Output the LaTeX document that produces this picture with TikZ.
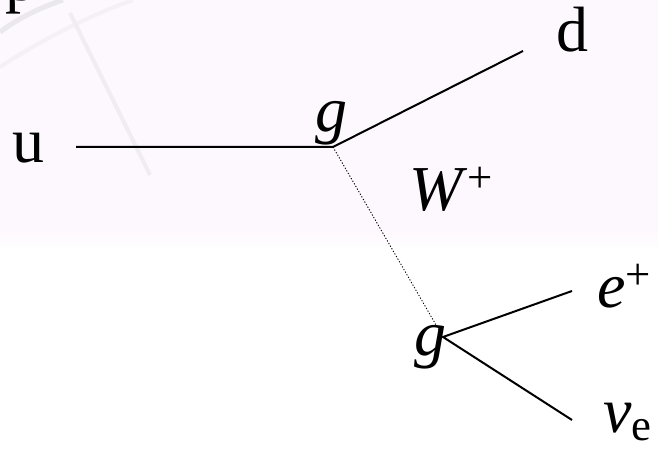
\documentclass[tikz,border=0pt]{standalone}
\usepackage{fontspec}
\setmainfont{Liberation Serif}
\usepackage{tikz}
\usetikzlibrary{positioning}
\definecolor{slidebg}{RGB}{253,248,253}
\definecolor{slidearc}{RGB}{234,232,237}

\begin{document}
\begin{tikzpicture}[x=0.5pt,y=0.5pt,
  lbl/.style={inner sep=0pt,anchor=base,font=\fontsize{32}{36}\selectfont},
  fermion/.style={line width=1pt},
  wboson/.style={line width=0.45pt,dash pattern=on 0.6pt off 0.9pt}]
  \useasboundingbox (0,0) rectangle (658,453);
  \clip (0,0) rectangle (658,453);
  % slide background
  \fill[slidebg] (0,223) rectangle (658,453);
  \shade[top color=slidebg,bottom color=white] (0,203) rectangle (658,223);
  \draw[slidearc,line width=2.5pt] (0,421) .. controls (20,436) and (42,446) .. (63,453);
  \draw[slidearc!50!slidebg,line width=2pt] (0,386) .. controls (40,412) and (90,438) .. (133,453);
  \draw[slidearc!70!slidebg,line width=2pt] (70,440) -- (150,278);
  % vertices and end points
  \coordinate (ustart) at (76,306);
  \coordinate (top) at (333,306);
  \coordinate (dend) at (523,402);
  \coordinate (bot) at (443,116);
  \coordinate (eend) at (572,162);
  \coordinate (nuend) at (572,33);
  % labels
  \node[lbl,anchor=base west] (p) at (5,452) {p};
  \node[lbl] (u) at (28,290) {u};
  \node[lbl] (d) at (572,401) {d};
  \node[lbl] (gtop) at (331,321) {\textit{g}};
  \node[lbl] (w) at (452,242) {\textit{W}\textsuperscript{+}};
  \node[lbl] (gbot) at (430,97) {\textit{g}};
  \node[lbl,anchor=base west] (e) at (597,145) {\textit{e}\textsuperscript{+}};
  \node[lbl,anchor=base west] (nu) at (603,20) {\textit{ν}\textsubscript{e}};
  % lines
  \draw[fermion] (ustart) -- (top) -- (dend);
  \draw[wboson] (top) -- (bot);
  \draw[fermion] (eend) -- (bot) -- (nuend);
\end{tikzpicture}
\end{document}
